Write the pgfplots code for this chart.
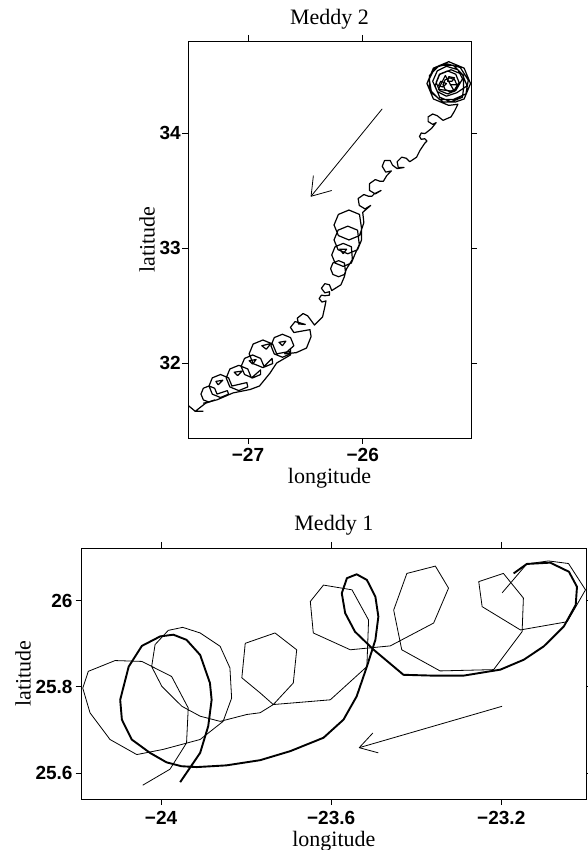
\documentclass[border=0pt]{standalone}
\usepackage{fontspec}
\setmainfont{Liberation Serif}
\newfontfamily\ticksf{Liberation Sans}
\usepackage{pgfplots}
\pgfplotsset{compat=1.18}

\pgfplotsset{
  meddy/.style={
    scale only axis,
    tick align=outside,
    xtick pos=both, ytick pos=both,
    xticklabel pos=lower, yticklabel pos=left,
    major tick length=6pt,
    axis line style={line width=0.8pt},
    tick style={black, line width=0.8pt},
    ticklabel style={font=\ticksf\bfseries\fontsize{19}{21}\selectfont, inner sep=1pt},
    label style={font=\fontsize{22}{25}\selectfont},
    title style={font=\fontsize{22}{25}\selectfont},
    no markers,
  },
  trk/.style={black, line width=1.2pt, line join=round},
  thin/.style={black, line width=0.8pt, line join=round},
  thick/.style={black, line width=1.9pt, line join=round},
}

\begin{document}
\begin{tikzpicture}
\useasboundingbox (0pt,0pt) rectangle (588pt,850pt);

% ---------------- Meddy 2 ----------------
\begin{axis}[meddy,
  at={(188pt,412pt)}, anchor=south west,
  width=283pt, height=397pt,
  xmin=-27.523, xmax=-25.056, ymin=31.348, ymax=34.80,
  xtick={-27,-26}, xticklabels={−27,−26},
  ytick={32,33,34}, yticklabels={32,33,34},
  xticklabel style={yshift=-3pt},
  title={Meddy 2},
  title style={at={([yshift=10pt]axis description cs:0.5,1)}, anchor=base},
  xlabel={longitude},
  xlabel style={at={([yshift=-46pt]axis description cs:0.5,0)}, anchor=base},
  ylabel={latitude},
  ylabel style={at={([xshift=-41pt]axis description cs:0,0.5)}, anchor=center},
]
\addplot[trk] coordinates {
(-25.24,34.42)(-25.18,34.42)(-25.198,34.462)(-25.24,34.48)(-25.282,34.462)(-25.30,34.42)(-25.282,34.378)(-25.24,34.36)(-25.198,34.378)
(-25.16,34.44)(-25.189,34.511)(-25.26,34.54)(-25.331,34.511)(-25.36,34.44)(-25.331,34.369)(-25.26,34.34)(-25.189,34.369)
(-25.13,34.47)(-25.17,34.55)(-25.27,34.58)(-25.35,34.54)(-25.39,34.45)(-25.35,34.36)(-25.27,34.32)(-25.18,34.35)
(-25.09,34.41)(-25.131,34.509)(-25.23,34.55)(-25.329,34.509)(-25.37,34.41)(-25.329,34.311)(-25.23,34.27)(-25.131,34.311)
(-25.122,34.379)(-25.122,34.501)(-25.209,34.588)(-25.331,34.588)(-25.418,34.501)(-25.418,34.379)(-25.331,34.292)(-25.209,34.292)
(-25.10,34.34)(-25.08,34.46)(-25.15,34.57)(-25.26,34.60)(-25.37,34.57)(-25.42,34.47)(-25.40,34.35)(-25.30,34.27)(-25.19,34.27)
(-25.116,34.296)(-25.06,34.43)(-25.116,34.564)(-25.25,34.62)(-25.384,34.564)(-25.44,34.43)(-25.384,34.296)(-25.25,34.24)(-25.17,34.25)
(-25.20,34.19)(-25.23,34.14)(-25.30,34.11)
(-25.35,34.15)(-25.39,34.165)(-25.43,34.14)(-25.43,34.10)(-25.39,34.075)(-25.36,34.09)
(-25.40,34.04)(-25.45,34.00)
(-25.46,33.995)(-25.49,34.00)(-25.505,33.97)(-25.49,33.945)(-25.46,33.95)
(-25.44,33.93)(-25.46,33.91)(-25.50,33.85)(-25.53,33.79)(-25.59,33.75)
(-25.62,33.78)(-25.66,33.79)(-25.70,33.75)(-25.69,33.70)(-25.64,33.70)
(-25.70,33.69)(-25.74,33.72)
(-25.76,33.76)(-25.81,33.76)(-25.83,33.71)(-25.80,33.66)(-25.75,33.67)
(-25.79,33.63)(-25.82,33.58)
(-25.85,33.58)(-25.89,33.595)(-25.94,33.56)(-25.94,33.50)(-25.89,33.47)(-25.84,33.50)
(-25.90,33.47)(-25.92,33.45)
(-25.95,33.45)(-25.99,33.465)(-26.04,33.43)(-26.03,33.37)(-25.98,33.34)(-25.93,33.37)
(-26.00,33.31)
(-25.99,33.22)(-26.028,33.108)(-26.12,33.07)(-26.212,33.108)(-26.25,33.20)(-26.212,33.292)(-26.12,33.33)(-26.028,33.292)(-26.01,33.17)
(-26.01,33.07)(-26.045,32.985)(-26.13,32.95)(-26.215,32.985)(-26.25,33.07)(-26.215,33.155)(-26.13,33.19)(-26.045,33.155)(-26.03,33.03)
(-26.07,32.94)(-26.099,32.869)(-26.17,32.84)(-26.241,32.869)(-26.27,32.94)(-26.241,33.011)(-26.17,33.04)(-26.099,33.011)(-26.09,32.90)
(-26.14,32.82)(-26.16,32.77)(-26.21,32.75)(-26.26,32.77)(-26.28,32.82)(-26.26,32.87)(-26.21,32.89)(-26.16,32.87)(-26.15,32.79)
(-26.16,32.75)(-26.19,32.68)(-26.27,32.63)
(-26.29,32.68)(-26.33,32.69)(-26.36,32.65)(-26.33,32.61)(-26.29,32.62)
(-26.29,32.59)
(-26.33,32.585)(-26.36,32.59)(-26.38,32.56)(-26.355,32.53)(-26.32,32.54)
(-26.33,32.49)(-26.35,32.40)(-26.42,32.33)
(-26.48,32.41)(-26.52,32.43)(-26.57,32.39)(-26.56,32.34)(-26.50,32.335)
(-26.55,32.35)(-26.59,32.36)(-26.63,32.31)(-26.60,32.265)(-26.545,32.275)
(-26.46,32.29)(-26.45,32.23)(-26.49,32.13)(-26.58,32.09)(-26.68,32.08)
(-26.60,32.15)(-26.629,32.221)(-26.70,32.25)(-26.771,32.221)(-26.80,32.15)(-26.771,32.079)(-26.70,32.05)(-26.629,32.079)(-26.64,32.10)
(-26.75,32.08)(-26.785,32.165)(-26.87,32.20)(-26.955,32.165)(-26.99,32.08)(-26.955,31.995)(-26.87,31.96)(-26.785,31.995)(-26.79,32.04)
(-26.86,31.97)(-26.89,32.04)(-26.96,32.07)(-27.03,32.04)(-27.06,31.97)(-27.03,31.90)(-26.96,31.87)(-26.89,31.90)(-26.89,31.94)
(-26.97,31.87)(-27.002,31.948)(-27.08,31.98)(-27.158,31.948)(-27.19,31.87)(-27.158,31.792)(-27.08,31.76)(-27.002,31.792)(-27.01,31.83)
(-27.14,31.80)(-27.169,31.871)(-27.24,31.90)(-27.311,31.871)(-27.34,31.80)(-27.311,31.729)(-27.24,31.70)(-27.169,31.729)(-27.18,31.76)
(-27.27,31.73)(-27.291,31.781)(-27.34,31.80)(-27.389,31.781)(-27.41,31.73)(-27.389,31.679)(-27.34,31.66)(-27.291,31.679)
(-27.37,31.65)(-27.46,31.58)(-27.39,31.58)
};
\addplot[trk] coordinates {(-26.63,32.13)(-26.63,32.07)(-26.75,32.00)(-26.81,31.91)(-26.90,31.80)(-26.98,31.77)(-27.13,31.74)(-27.27,31.68)(-27.39,31.65)};
\addplot[trk] coordinates {(-27.46,31.58)(-27.52,31.63)};
\addplot[trk] coordinates {(-26.84,32.12)(-26.80,32.17)(-26.88,32.15)(-26.84,32.12)};
\addplot[trk] coordinates {(-27.09,31.89)(-27.05,31.93)(-27.12,31.92)(-27.09,31.89)};
\addplot[trk] coordinates {(-27.26,31.81)(-27.22,31.85)(-27.28,31.84)(-27.26,31.81)};
\addplot[trk] coordinates {(-26.96,31.99)(-26.93,32.03)(-26.99,32.02)(-26.96,31.99)};
\addplot[trk] coordinates {(-26.70,32.15)(-26.67,32.19)(-26.73,32.18)(-26.70,32.15)};
\addplot[trk] coordinates {(-26.17,32.95)(-26.14,32.99)(-26.20,32.99)(-26.17,32.95)};
\addplot[trk] coordinates {(-25.22,34.45)(-25.20,34.48)(-25.25,34.49)(-25.26,34.45)(-25.22,34.45)};
\addplot[trk] coordinates {(-25.30,34.40)(-25.27,34.43)(-25.32,34.45)(-25.34,34.41)(-25.30,34.40)};
\addplot[trk] coordinates {(-25.20,34.36)(-25.28,34.50)(-25.34,34.38)(-25.20,34.36)};
% arrow
\addplot[thin] coordinates {(-25.83,34.21)(-26.45,33.45)};
\addplot[thin] coordinates {(-26.43,33.63)(-26.45,33.45)(-26.27,33.50)};
\end{axis}

% ---------------- Meddy 1 ----------------
\begin{axis}[meddy,
  at={(81.7pt,51pt)}, anchor=south west,
  width=504.3pt, height=251pt,
  xmin=-24.1865, xmax=-23.0008, ymin=25.540, ymax=26.122,
  xtick={-24,-23.6,-23.2}, xticklabels={−24,−23.6,−23.2},
  ytick={25.6,25.8,26}, yticklabels={25.6,25.8,26},
  xticklabel style={yshift=-5pt},
  yticklabel style={xshift=-2pt},
  title={Meddy 1},
  title style={at={([yshift=11pt]axis description cs:0.5,1)}, anchor=base},
  xlabel={longitude},
  xlabel style={at={([yshift=-47.5pt]axis description cs:0.5,0)}, anchor=base},
  ylabel={latitude},
  ylabel style={at={([xshift=-58.7pt]axis description cs:0,0.5)}, anchor=center},
]
\addplot[thin] coordinates {
(-23.198,26.018)(-23.140,26.085)(-23.089,26.092)(-23.042,26.086)(-23.002,26.025)(-23.045,25.951)(-23.155,25.932)
(-23.245,25.986)(-23.253,26.044)(-23.195,26.063)(-23.148,26.006)(-23.151,25.928)(-23.218,25.840)(-23.344,25.837)
(-23.434,25.886)(-23.453,25.978)(-23.422,26.063)(-23.355,26.080)(-23.324,26.029)(-23.359,25.948)(-23.461,25.895)
(-23.555,25.886)(-23.642,25.925)(-23.649,25.998)(-23.618,26.036)(-23.551,26.025)(-23.512,25.955)(-23.516,25.847)
(-23.602,25.770)(-23.736,25.759)(-23.767,25.786)(-23.810,25.821)(-23.802,25.901)(-23.767,25.913)(-23.732,25.925)
(-23.681,25.886)(-23.689,25.809)(-23.736,25.759)(-23.767,25.740)(-23.798,25.736)(-23.861,25.720)(-23.908,25.732)
(-23.951,25.755)(-23.998,25.801)(-24.022,25.847)(-24.014,25.898)(-23.983,25.931)(-23.949,25.938)(-23.908,25.925)
(-23.861,25.894)(-23.838,25.844)(-23.834,25.774)(-23.854,25.720)(-23.908,25.678)(-23.995,25.655)(-24.057,25.643)
(-24.120,25.678)(-24.167,25.740)(-24.184,25.797)(-24.171,25.836)(-24.108,25.861)(-24.045,25.859)(-23.975,25.824)
(-23.936,25.751)(-23.940,25.670)(-23.979,25.609)(-24.043,25.572)
};
\addplot[thick] coordinates {
(-23.955,25.579)(-23.908,25.647)(-23.889,25.709)(-23.881,25.770)(-23.885,25.809)(-23.908,25.874)(-23.940,25.909)
(-23.971,25.921)(-24.002,25.917)(-24.045,25.895)(-24.076,25.847)(-24.096,25.770)(-24.092,25.724)(-24.069,25.678)
(-24.026,25.647)(-23.987,25.625)(-23.952,25.616)(-23.916,25.614)(-23.846,25.618)(-23.767,25.630)(-23.696,25.651)
(-23.618,25.682)(-23.571,25.724)(-23.540,25.778)(-23.516,25.847)(-23.496,25.909)(-23.489,25.963)(-23.496,26.009)
(-23.516,26.048)(-23.540,26.061)(-23.563,26.052)(-23.575,26.017)(-23.567,25.971)(-23.544,25.928)(-23.500,25.886)
(-23.430,25.828)(-23.359,25.826)(-23.289,25.826)(-23.202,25.840)(-23.147,25.863)(-23.100,25.894)(-23.053,25.940)
(-23.025,25.990)(-23.022,26.032)(-23.041,26.067)(-23.085,26.088)(-23.140,26.085)(-23.171,26.063)
};
% arrow
\addplot[thin] coordinates {(-23.198,25.755)(-23.534,25.659)};
\addplot[thin] coordinates {(-23.502,25.693)(-23.534,25.659)(-23.489,25.647)};
\end{axis}
\end{tikzpicture}
\end{document}
